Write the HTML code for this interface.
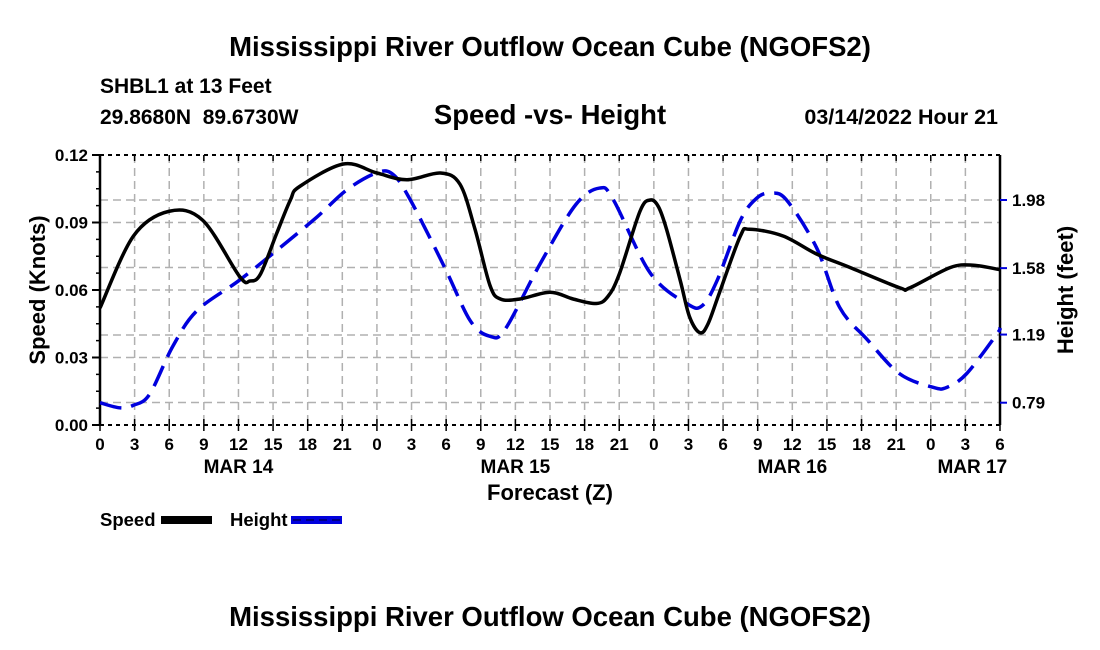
<!DOCTYPE html>
<html><head><meta charset="utf-8"><style>
body{margin:0;background:#fff;}
svg{display:block;font-family:"Liberation Sans",sans-serif;font-weight:bold;}
</style></head><body>
<svg id="chart" width="1100" height="650" viewBox="0 0 1100 650" xmlns="http://www.w3.org/2000/svg">
<text x="550" y="56" font-size="27.5" text-anchor="middle">Mississippi River Outflow Ocean Cube (NGOFS2)</text>
<text x="100" y="93" font-size="21">SHBL1 at 13 Feet</text>
<text x="100" y="124" font-size="21" style="white-space:pre">29.8680N  89.6730W</text>
<text x="550" y="124" font-size="27.5" text-anchor="middle">Speed -vs- Height</text>
<text x="998" y="124" font-size="21.5" text-anchor="end">03/14/2022 Hour 21</text>
<g id="grid"></g>
<g id="axes"></g>
<g id="series"></g>
<text transform="translate(45,290) rotate(-90)" font-size="22" text-anchor="middle">Speed (Knots)</text>
<text transform="translate(1073,290) rotate(-90)" font-size="22" text-anchor="middle">Height (feet)</text>
<text x="550" y="500" font-size="22" text-anchor="middle">Forecast (Z)</text>
<g>
<text x="100" y="526" font-size="18.5">Speed</text>
<rect x="161" y="516" width="51" height="8" fill="#000"/>
<text x="230" y="526" font-size="18.5">Height</text>
<rect x="291" y="516" width="51" height="8" fill="#0000dd"/>
<line x1="293" y1="520" x2="340" y2="520" stroke="#000066" stroke-width="1.5" stroke-dasharray="8 5"/>
</g>
<text x="550" y="626" font-size="27.5" text-anchor="middle">Mississippi River Outflow Ocean Cube (NGOFS2)</text>
</svg>
<script>
const speedHours=[0,2.9,6,8.9,12.1,13,13.9,15.3,16.5,17.3,21.1,24,26.6,29.5,31.2,32.5,33.8,34.7,36.4,39,41,43,44,45,46.8,47.7,48.4,49.1,50.3,51.1,52,52.7,53.7,55.5,56.3,59.2,62.1,65,69.3,70.2,73.7,75.7,78];
const speedValues=[0.052,0.084,0.095,0.091,0.066,0.064,0.067,0.085,0.100,0.106,0.116,0.112,0.109,0.112,0.107,0.087,0.062,0.056,0.056,0.059,0.056,0.054,0.057,0.067,0.095,0.100,0.097,0.087,0.064,0.048,0.041,0.045,0.059,0.084,0.087,0.084,0.076,0.070,0.061,0.061,0.070,0.071,0.069];
const heightHours=[0,1.7,2.9,4.3,6.3,8.4,12.1,15.6,18.8,21.4,24,25.4,26.9,29.9,32.1,33.8,35.1,38.1,41.2,43.3,44.5,47.7,50.9,52.2,53.5,55.5,56.9,58.1,59.5,62.1,64.1,66.5,69.3,72.2,73.4,75.1,77.7,78];
const heightValues=[0.79,0.76,0.775,0.84,1.12,1.33,1.51,1.70,1.88,2.04,2.14,2.13,1.98,1.58,1.27,1.18,1.22,1.60,1.95,2.05,1.98,1.55,1.37,1.36,1.51,1.86,1.99,2.02,1.98,1.70,1.35,1.16,0.96,0.88,0.88,0.96,1.19,1.23];
const leftTicks=[0,0.03,0.06,0.09,0.12];
const leftTickLabels=["0.00","0.03","0.06","0.09","0.12"];
const rightTicks=[0.79,1.19,1.58,1.98];
const rightTickLabels=["0.79","1.19","1.58","1.98"];
const xTickLabels=["0","3","6","9","12","15","18","21","0","3","6","9","12","15","18","21","0","3","6","9","12","15","18","21","0","3","6"];
const dayLabels=["MAR 14","MAR 15","MAR 16","MAR 17"];
const dayHours=[12,36,60,75.6];

const X0=100,X1=1000,Y0=425,Y1=155;
const xs=h=>X0+(h/78)*(X1-X0);
const ys=v=>Y0-(v/0.12)*(Y0-Y1);
const yr=v=>402.7-(v-0.79)*(202.7/1.19);
const NS="http://www.w3.org/2000/svg";
function mk(parent,tag,attrs){const e=document.createElementNS(NS,tag);for(const k in attrs)e.setAttribute(k,attrs[k]);parent.appendChild(e);return e;}
const grid=document.getElementById('grid'),axes=document.getElementById('axes'),series=document.getElementById('series');
[0.01,0.03,0.04,0.06,0.07,0.09,0.10].forEach((v,i)=>{
 const y=ys(v);
 const l=mk(grid,'line',{x1:X0,x2:X1,y1:y,y2:y,stroke:'#b0b0b0','stroke-width':1.5,'stroke-dasharray':'8 5'});
 
 
});
for(let i=1;i<26;i++){
 const x=xs(i*3);
 const l=mk(grid,'line',{x1:x,x2:x,y1:Y1,y2:Y0,stroke:'#b0b0b0','stroke-width':1.5,'stroke-dasharray':'8 5'});
 
 
}
mk(axes,'line',{x1:X0,x2:X0,y1:Y1,y2:Y0,stroke:'#000','stroke-width':2.5});
mk(axes,'line',{x1:X1,x2:X1,y1:Y1,y2:Y0,stroke:'#000','stroke-width':2.5});
mk(axes,'line',{x1:X0,x2:X1,y1:Y1,y2:Y1,stroke:'#000','stroke-width':2,'stroke-dasharray':'4 4'});
mk(axes,'line',{x1:X0,x2:X1,y1:Y0,y2:Y0,stroke:'#000','stroke-width':2,'stroke-dasharray':'4 4'});
for(let i=0;i<=26;i++){
 const x=xs(i*3);
 mk(axes,'line',{x1:x,x2:x,y1:Y0-6,y2:Y0+6,stroke:'#000','stroke-width':1.5});
 mk(axes,'line',{x1:x,x2:x,y1:Y1,y2:Y1+6,stroke:'#000','stroke-width':1.5});
 const t=mk(axes,'text',{x:x,y:Y0+25,'font-size':17,'text-anchor':'middle'});
 t.textContent=xTickLabels[i];
 
 
}
dayLabels.forEach((d,i)=>{
 const t=mk(axes,'text',{x:xs(dayHours[i]),y:Y0+48,'font-size':19,'text-anchor':'middle'});
 t.textContent=d;
 
 
});
for(let v=0;v<=0.1201;v+=0.0075){
 const y=ys(v);mk(axes,'line',{x1:X0-4,x2:X0,y1:y,y2:y,stroke:'#000','stroke-width':1.5});
}
leftTicks.forEach((v,i)=>{
 const y=ys(v);
 mk(axes,'line',{x1:X0-8,x2:X0,y1:y,y2:y,stroke:'#000','stroke-width':2});
 const t=mk(axes,'text',{x:X0-12,y:y+6,'font-size':17,'text-anchor':'end'});
 t.textContent=leftTickLabels[i];
 
 
});
rightTicks.forEach((v,i)=>{
 const y=yr(v);
 mk(axes,'line',{x1:X1,x2:X1+7,y1:y,y2:y,stroke:'#0000dd','stroke-width':2});
 const t=mk(axes,'text',{x:X1+12,y:y+6,'font-size':17});
 t.textContent=rightTickLabels[i];
 
 
});
function smooth(pts){
 let d='M'+pts[0][0]+','+pts[0][1];
 for(let i=0;i<pts.length-1;i++){
  const p0=pts[Math.max(0,i-1)],p1=pts[i],p2=pts[i+1],p3=pts[Math.min(pts.length-1,i+2)];
  const c1=[p1[0]+(p2[0]-p0[0])/6,p1[1]+(p2[1]-p0[1])/6];
  const c2=[p2[0]-(p3[0]-p1[0])/6,p2[1]-(p3[1]-p1[1])/6];
  d+=' C'+c1.join(',')+' '+c2.join(',')+' '+p2.join(',');
 }
 return d;
}
const hp=mk(series,'path',{d:smooth(heightHours.map((h,i)=>[xs(h),yr(heightValues[i])])),fill:'none',stroke:'#0000dd','stroke-width':3.5,'stroke-dasharray':'22 10'});


const sp=mk(series,'path',{d:smooth(speedHours.map((h,i)=>[xs(h),ys(speedValues[i])])),fill:'none',stroke:'#000','stroke-width':3.5});


</script>
</body></html>
